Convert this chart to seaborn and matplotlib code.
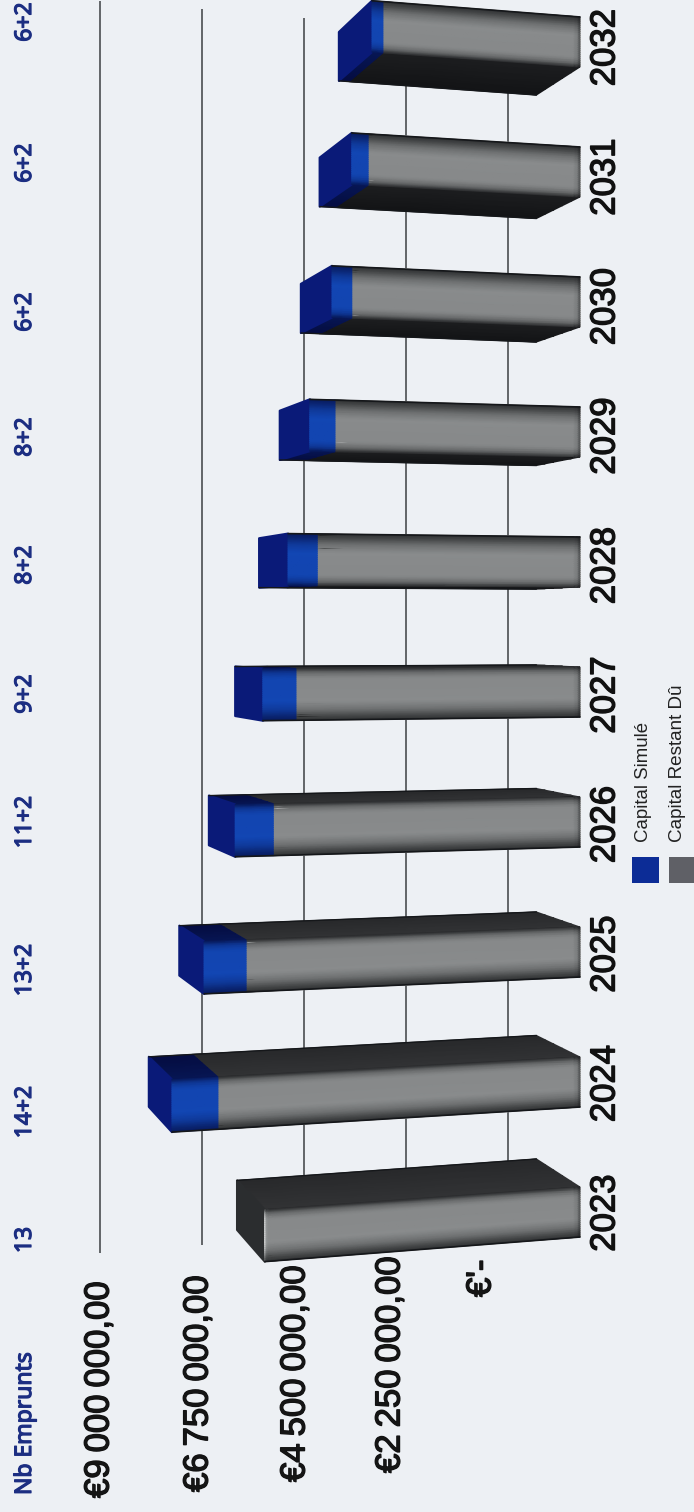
import numpy as np
import pandas as pd
import matplotlib
matplotlib.use('Agg')
import matplotlib.pyplot as plt
import matplotlib.patheffects as pe
from matplotlib.colors import LinearSegmentedColormap
from matplotlib.patches import Polygon, Rectangle
from matplotlib.transforms import Transform
import seaborn as sns

# --- Data ---
years = ['2023', '2024', '2025', '2026', '2027', '2028', '2029', '2030', '2031', '2032']
capital_restant = [6.38e6, 7.33e6, 6.76e6, 6.21e6, 5.75e6, 5.32e6, 4.96e6, 4.62e6, 4.29e6, 3.99e6]
capital_simule = [0, 0.93e6, 0.85e6, 0.77e6, 0.67e6, 0.59e6, 0.51e6, 0.40e6, 0.33e6, 0.22e6]
nb_emprunts = ['13', '14+2', '13+2', '11+2', '9+2', '8+2', '8+2', '6+2', '6+2', '6+2']
axis_ticks = [0, 2.25e6, 4.5e6, 6.75e6, 9e6]
axis_labels = ["€'-", '€2\u2009250\u2009000,00', '€4\u2009500\u2009000,00', '€6\u2009750\u2009000,00', '€9\u2009000\u2009000,00']

df = pd.DataFrame({'year': years, 'gray': capital_restant, 'blue': capital_simule})
df['total'] = df['gray'] + df['blue']
df['pos'] = np.arange(len(years))

W, H = 694, 1512
PX_PER_EUR = 49.4e-6
BASE_X = 580
BAR_WIDTH = 0.385
CENTER = 4.5

sns.set_theme(style='white')
plt.rcParams['font.family'] = ['Liberation Sans', 'DejaVu Sans']
BG = '#edf0f4'

fig = plt.figure(figsize=(W / 100, H / 100), dpi=100, facecolor=BG)
ax = fig.add_axes([0, 0, 1, 1], facecolor=BG)


# the scan is a 3D bar chart seen in perspective: bars fan out to the left
def warp(v, i, plane=1.0):
    v, i = np.asarray(v, float), np.asarray(i, float)
    i2 = i + (i - CENTER) * v * PX_PER_EUR * 1.28e-4
    v0 = (BASE_X + 290) / PX_PER_EUR
    return v0 + plane * (v - v0), CENTER + plane * (i2 - CENTER)


class BarWarp(Transform):
    input_dims = 2
    output_dims = 2

    def __init__(self, plane=1.0):
        super().__init__()
        self.plane = plane

    def transform_non_affine(self, xy):
        return np.column_stack(warp(xy[:, 0], xy[:, 1], self.plane))


sns.barplot(data=df, y='pos', x='total', orient='h', native_scale=True, color='#0f3fa8',
            width=BAR_WIDTH, saturation=1, ax=ax)
sns.barplot(data=df, y='pos', x='gray', orient='h', native_scale=True, color='#85888a',
            width=BAR_WIDTH, saturation=1, ax=ax)
total_bars = ax.containers[0]
gray_bars = ax.containers[1]

ax.set_xlim(BASE_X / PX_PER_EUR, (BASE_X - W) / PX_PER_EUR)
ax.set_ylim(-(H - 1212) / 130, 1212 / 130)
ax.set_xlabel('')
ax.set_ylabel('')
ax.set_xticks([])
ax.set_yticks([])
sns.despine(ax=ax, left=True, bottom=True)

warped = BarWarp() + ax.transData
for b in list(total_bars) + list(gray_bars):
    b.set_transform(warped)
    b.set_zorder(2)

# gridlines sit on the back wall
ax.vlines(axis_ticks, -0.47, 9.47, color='#4a4d50', lw=1.2, zorder=1,
          transform=BarWarp(0.917) + ax.transData)

gray_cmap = LinearSegmentedColormap.from_list('g', ['#0c0d0f', '#8b8e8f', '#f6f7f7'])
blue_cmap = LinearSegmentedColormap.from_list('b', ['#040a3c', '#1247b5', '#4f8fe8'])
across_t = [0, 0.08, 0.2, 0.36, 0.82, 0.94, 1]
across_c = [0.14, 0.22, 0.38, 0.49, 0.48, 0.34, 0.12]


def front(v0, v1, lo, hi, cmap, flip, highlight=False):
    if v1 == 0:
        vv = [v1, v1 + 0.06e6, v1 + 0.14e6]
        vv += [v0 - 0.07e6, v0 - 0.02e6, v0] if highlight else [v0]
        vv = np.array(vv)
    else:
        vv = np.linspace(v1, v0, 2)
    tt = np.linspace(0, 1, 25)
    ii = (lo + (hi - lo) * (1 - tt)) if flip else (lo + (hi - lo) * tt)
    V, I = np.meshgrid(vv, ii)
    X, Y = warp(V, I)
    C = np.interp(tt, across_t, across_c)[:, None] * np.ones(len(vv))
    if v1 == 0:
        C[:, 0] *= 0.55
        C[:, 1] *= 0.9
    if highlight:
        C[:, -2] *= 1.15
        C[:, -1] = np.minimum(C[:, -1] * 1.9, 0.95)
    ax.pcolormesh(X, Y, C, shading='gouraud', cmap=cmap, vmin=0, vmax=1, zorder=5)


for n, (t, g) in enumerate(zip(total_bars, gray_bars)):
    lo, hi = t.get_y(), t.get_y() + t.get_height()
    gv, tv = g.get_width(), t.get_width()
    upper = n < 5  # bars under the centre show their upper side, the others their lower side
    edge = hi if upper else lo
    far = lo if upper else hi
    dark = 0.11 if upper else 0.03

    # side face, gray part then blue part
    for v0, v1, cm, c0, c1 in [(0, gv, gray_cmap, dark + 0.04, dark),
                               (gv, tv, blue_cmap, 0.10, 0.02)]:
        if v1 <= v0:
            continue
        vv = np.linspace(v0, v1, 2)
        dd = np.linspace(1, 0.95, 6)
        X = np.array([warp(vv, edge, d)[0] for d in dd])
        Y = np.array([warp(vv, edge, d)[1] for d in dd])
        C = np.linspace(c0, c1, 6)[:, None] * np.ones(2)
        ax.pcolormesh(X, Y, C, shading='gouraud', cmap=cm, vmin=0, vmax=1, zorder=3)

    # end cap
    cap = [warp(tv, lo, 1), warp(tv, hi, 1), warp(tv, hi, 0.95), warp(tv, lo, 0.95)]
    cap_color = '#0a1a78' if tv > gv else '#2b2d2f'
    ax.add_patch(Polygon(np.array(cap, float), closed=True, fc=cap_color, ec=cap_color, lw=1.6,
                         joinstyle='round', zorder=4))

    # front faces
    front(gv, 0, lo, hi, gray_cmap, not upper, highlight=tv <= gv)
    if tv > gv:
        front(tv, gv, lo, hi, blue_cmap, not upper)

    # dark outline on the outer edges
    vv = np.array([0, tv])
    xf, yf = warp(vv, far, 1)
    xb, yb = warp(vv, edge, 0.95)
    ax.plot(xf, yf, color='#15171a', lw=1.2, zorder=6, solid_capstyle='round')
    ax.plot(xb, yb, color='#15171a', lw=1.0, zorder=6, solid_capstyle='round')


def px_text(x, y, s, **kw):
    return fig.text(x / W, 1 - y / H, s, rotation=90, rotation_mode='anchor', **kw)


stroke = [pe.withStroke(linewidth=1.0, foreground='#111111')]
navy = '#1c2e82'
nb_font = dict(fontsize=16.5, va='center', color=navy, family=['Noto Sans', 'DejaVu Sans'],
               path_effects=[pe.withStroke(linewidth=0.9, foreground=navy)])

# year labels
for i, y in enumerate(years):
    px_text(605, 1213 - 129.5 * i, y, fontsize=25, ha='center', va='center', color='#111111', path_effects=stroke)

# Nb Emprunts row
nb_y = [1240, 1112, 970, 822, 694, 565, 437, 312, 163, 22]
for label, y in zip(nb_emprunts, nb_y):
    px_text(25, y, label, ha='center', **nb_font)
px_text(25, 1495, 'Nb Emprunts', ha='left', **nb_font)

# value axis labels
label_x = [481, 390, 295, 198, 99]
label_y = [1297, 1473, 1482, 1492, 1498]
for lab, x, y in zip(axis_labels, label_x, label_y):
    px_text(x, y, lab, fontsize=25, ha='left', va='center', color='#151515', path_effects=stroke)

# legend
fig.add_artist(Rectangle((632 / W, 1 - 883 / H), 27 / W, 26 / H, transform=fig.transFigure, fc='#0c2c96', ec='none'))
fig.add_artist(Rectangle((669 / W, 1 - 883 / H), 25 / W, 26 / H, transform=fig.transFigure, fc='#5f6066', ec='none'))
px_text(644, 842, 'Capital Simulé', fontsize=13.4, ha='left', va='center', color='#222222')
px_text(678, 842, 'Capital Restant Dû', fontsize=13.6, ha='left', va='center', color='#222222')

fig.savefig('out.png', dpi=100, facecolor=BG)
